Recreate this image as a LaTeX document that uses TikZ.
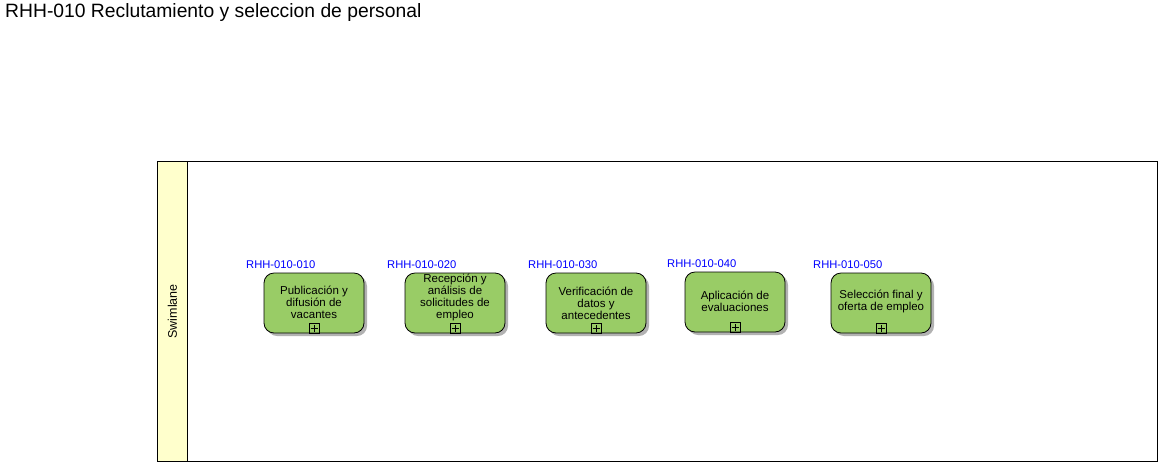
\documentclass[tikz,border=0pt]{standalone}
\usepackage{fontspec}
\setmainfont{Liberation Sans}
\usetikzlibrary{shadows}
\definecolor{taskgreen}{HTML}{99CC66}
\definecolor{laneyellow}{HTML}{FFFFCC}
\definecolor{labelblue}{HTML}{0000FF}
\begin{document}
\begin{tikzpicture}[x=1pt,y=-1pt,
  taskbox/.style={draw=black, line width=0.8pt, rounded corners=10pt, fill=taskgreen,
    minimum width=100pt, minimum height=60pt, inner sep=0pt,
    drop shadow={shadow xshift=3pt, shadow yshift=-3pt, fill=black!30, opacity=1}},
  tasktext/.style={align=center, font=\fontsize{11.5}{12}\selectfont, inner sep=0pt},
  tasklabel/.style={anchor=west, text=labelblue, font=\fontsize{11.2}{12}\selectfont, inner sep=0pt},
  plusbox/.style={draw=black, line width=0.6pt, minimum width=10pt, minimum height=10pt, inner sep=0pt,
    path picture={\draw[line width=0.6pt] ([xshift=-3.5pt]path picture bounding box.center) -- ([xshift=3.5pt]path picture bounding box.center);
                  \draw[line width=0.6pt] ([yshift=-3.5pt]path picture bounding box.center) -- ([yshift=3.5pt]path picture bounding box.center);}}
]
\useasboundingbox (0,0) rectangle (1163,467);
% title
\node[anchor=west, inner sep=0pt, font=\fontsize{19.3}{22}\selectfont] (title) at (5,13) {RHH-010 Reclutamiento y seleccion de personal};
% pool and lane
\node[draw=black, line width=0.8pt, minimum width=1000pt, minimum height=300pt, inner sep=0pt, anchor=north west] (pool) at (157,161) {};
\node[draw=black, line width=0.8pt, fill=laneyellow, minimum width=30pt, minimum height=300pt, inner sep=0pt, anchor=north west] (lane) at (157,161) {};
\node[rotate=90, font=\fontsize{12.5}{13}\selectfont, inner sep=0pt] (lanetext) at (lane.center) {Swimlane};
% tasks
\node[taskbox] (t1) at (314,303) {};
\node[taskbox] (t2) at (455,303) {};
\node[taskbox] (t3) at (596,303) {};
\node[taskbox] (t4) at (735,302) {};
\node[taskbox] (t5) at (881,303) {};
\node[tasktext] (t1text) at (314,302) {Publicación y\\difusión de\\vacantes};
\node[tasktext] (t2text) at (455,297) {Recepción y\\análisis de\\solicitudes de\\empleo};
\node[tasktext] (t3text) at (596,303) {Verificación de\\datos y\\antecedentes};
\node[tasktext] (t4text) at (735,301) {Aplicación de\\evaluaciones};
\node[tasktext] (t5text) at (881,301) {Selección final y\\oferta de empleo};
\node[plusbox] (p1) at (314,328) {};
\node[plusbox] (p2) at (455,328) {};
\node[plusbox] (p3) at (596,328) {};
\node[plusbox] (p4) at (735,327) {};
\node[plusbox] (p5) at (881,328) {};
% labels
\node[tasklabel] (l1) at (246,265) {RHH-010-010};
\node[tasklabel] (l2) at (387,265) {RHH-010-020};
\node[tasklabel] (l3) at (528,265) {RHH-010-030};
\node[tasklabel] (l4) at (667,264) {RHH-010-040};
\node[tasklabel] (l5) at (813,265) {RHH-010-050};
\end{tikzpicture}
\end{document}
